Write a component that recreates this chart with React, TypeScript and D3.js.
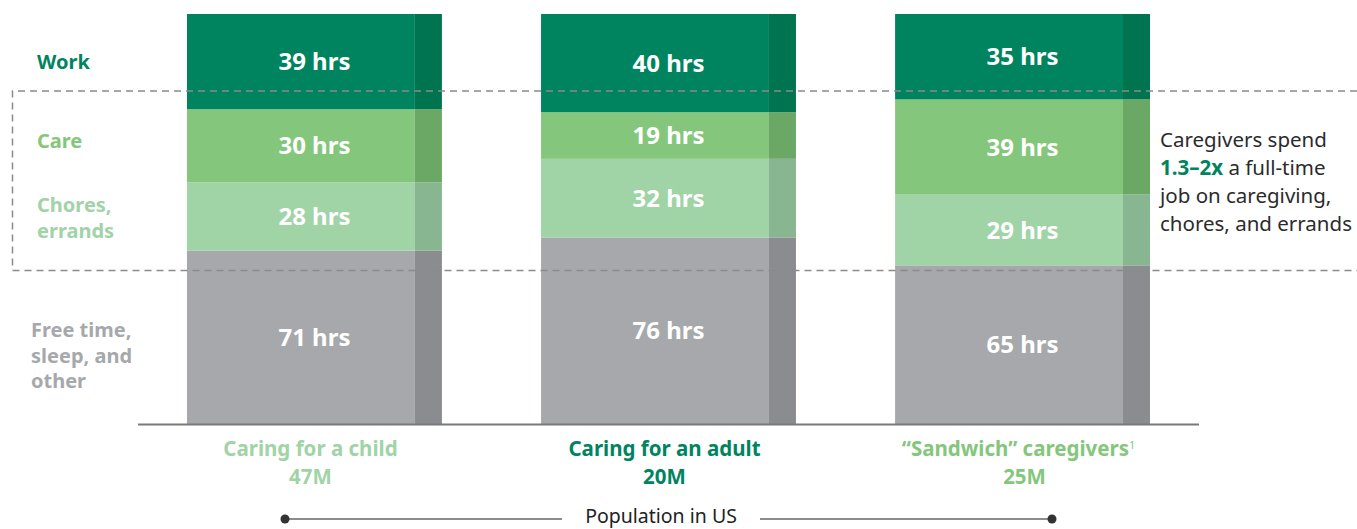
import React, { useEffect, useRef } from 'react';
import * as d3 from 'd3';

// categories and hours per week
const groups = ['Caring for a child', 'Caring for an adult', '“Sandwich” caregivers'];
const populations = ['47M', '20M', '25M'];
const segments = ['other', 'chores', 'care', 'work'];
const workHrs = [39, 40, 35];
const careHrs = [30, 19, 39];
const choresHrs = [28, 32, 29];
const otherHrs = [71, 76, 65];

const segLabels = [
  { key: 'work', lines: ['Work'], color: '#00845f', shift: 0 },
  { key: 'care', lines: ['Care'], color: '#84c77c', shift: -5 },
  { key: 'chores', lines: ['Chores,', 'errands'], color: '#a0d3a6', shift: 1 },
  { key: 'other', lines: ['Free time,', 'sleep, and', 'other'], color: '#a7a8ab', shift: 18 },
];

const fills: Record<string, string> = {
  work: '#00845f', care: '#84c77c', chores: '#a0d3a6', other: '#a7a8ab',
};
const sideFills: Record<string, string> = {
  work: '#00744f', care: '#6ca865', chores: '#87b690', other: '#8b8c8f',
};
const groupColors = ['#a0d3a6', '#00845f', '#84c77c'];

const FONT = '"Noto Sans", sans-serif';

const App = () => {
  const svgRef = useRef<SVGSVGElement>(null);

  useEffect(() => {
    document.body.style.margin = '0';
    const width = 1357, height = 529;
    const svg = d3.select(svgRef.current);
    svg.selectAll('*').remove();
    svg.attr('width', width).attr('height', height).style('display', 'block')
      .style('font-family', FONT);

    const rows = groups.map((g, i) => ({
      group: g, work: workHrs[i], care: careHrs[i], chores: choresHrs[i], other: otherHrs[i],
    }));

    const x = d3.scaleBand().domain(groups).range([187, 1150]).paddingInner(0.28).paddingOuter(0);
    const y = d3.scaleLinear().domain([0, 1]).range([424, 14]);

    const stack = d3.stack<any>().keys(segments).offset(d3.stackOffsetExpand);
    const series = stack(rows);

    const bw = x.bandwidth();
    const side = bw * 0.106;

    const layers = svg.append('g').selectAll('g').data(series).enter().append('g');

    layers.selectAll('rect.main')
      .data(s => s.map(d => ({ key: s.key, d })))
      .enter().append('rect')
      .attr('x', v => x(v.d.data.group)!)
      .attr('y', v => y(v.d[1]))
      .attr('width', bw - side)
      .attr('height', v => y(v.d[0]) - y(v.d[1]))
      .attr('fill', v => fills[v.key]);

    layers.selectAll('rect.side')
      .data(s => s.map(d => ({ key: s.key, d })))
      .enter().append('rect')
      .attr('x', v => x(v.d.data.group)! + bw - side)
      .attr('y', v => y(v.d[1]))
      .attr('width', side)
      .attr('height', v => y(v.d[0]) - y(v.d[1]))
      .attr('fill', v => sideFills[v.key]);

    layers.selectAll('text')
      .data(s => s.map(d => ({ key: s.key, d })))
      .enter().append('text')
      .attr('x', v => x(v.d.data.group)! + bw / 2)
      .attr('y', v => (y(v.d[0]) + y(v.d[1])) / 2)
      .attr('dy', '0.36em')
      .attr('text-anchor', 'middle')
      .attr('fill', '#fff')
      .attr('font-weight', 700)
      .attr('font-size', 24)
      .text(v => `${v.d.data[v.key]} hrs`);

    // baseline
    svg.append('line').attr('x1', 138).attr('x2', 1199).attr('y1', 424.5).attr('y2', 424.5)
      .attr('stroke', '#7a7a7a').attr('stroke-width', 2);

    // dashed box around care + chores
    const dash = svg.append('g').attr('stroke', '#8a8a8a').attr('stroke-width', 1.5)
      .attr('stroke-dasharray', '7,5').attr('fill', 'none');
    dash.append('path').attr('d', `M1357,91 H12.5 V270.5 H1357`);

    // left segment labels (next to first bar segments)
    segLabels.forEach(l => {
      const s = series.find(ss => ss.key === l.key)!;
      const d = s[0];
      const cy = (y(d[0]) + y(d[1])) / 2 + l.shift;
      const lh = 25.5;
      const lx = l.key === 'other' ? 31 : 37;
      const t = svg.append('text').attr('x', lx)
        .attr('fill', l.color).attr('font-weight', 700).attr('font-size', 20);
      l.lines.forEach((ln, i) => {
        t.append('tspan').attr('x', lx)
          .attr('y', cy + (i - (l.lines.length - 1) / 2) * lh).attr('dy', '0.36em').text(ln);
      });
    });

    // group labels
    groups.forEach((g, i) => {
      const center = x(g)! + bw / 2;
      const t = svg.append('text').attr('x', center - 4).attr('y', 456).attr('text-anchor', 'middle')
        .attr('fill', groupColors[i]).attr('font-weight', 700).attr('font-size', 20.5);
      t.append('tspan').text(g);
      if (i === 2) t.append('tspan').attr('font-size', 11).attr('font-weight', 400).attr('dy', -7).text('1');
      svg.append('text').attr('x', i === 2 ? center + 2 : center - 4).attr('y', 484).attr('text-anchor', 'middle')
        .attr('fill', groupColors[i]).attr('font-weight', 700).attr('font-size', 20.5).text(populations[i]);
    });

    // population axis
    const pop = svg.append('g');
    pop.append('line').attr('x1', 285).attr('x2', 562).attr('y1', 519).attr('y2', 519)
      .attr('stroke', '#666').attr('stroke-width', 1.5);
    pop.append('line').attr('x1', 760).attr('x2', 1052).attr('y1', 519).attr('y2', 519)
      .attr('stroke', '#666').attr('stroke-width', 1.5);
    pop.selectAll('circle').data([285, 1052]).enter().append('circle')
      .attr('cx', d => d).attr('cy', 519).attr('r', 4.5).attr('fill', '#333');
    pop.append('text').attr('x', 661).attr('y', 523).attr('text-anchor', 'middle')
      .attr('fill', '#222').attr('font-size', 19.5).text('Population in US');

    // annotation
    const ann = svg.append('text').attr('x', 1160).attr('font-size', 20.5).attr('fill', '#2b2b2b');
    ann.append('tspan').attr('x', 1160).attr('y', 147).text('Caregivers spend');
    const l2 = ann.append('tspan').attr('x', 1160).attr('y', 175);
    l2.append('tspan').attr('fill', '#00845f').attr('font-weight', 700).text('1.3–2x');
    l2.append('tspan').text(' a full-time');
    ann.append('tspan').attr('x', 1160).attr('y', 203).text('job on caregiving,');
    ann.append('tspan').attr('x', 1160).attr('y', 231).text('chores, and errands');
  }, []);

  return <svg ref={svgRef} />;
};

export default App;
